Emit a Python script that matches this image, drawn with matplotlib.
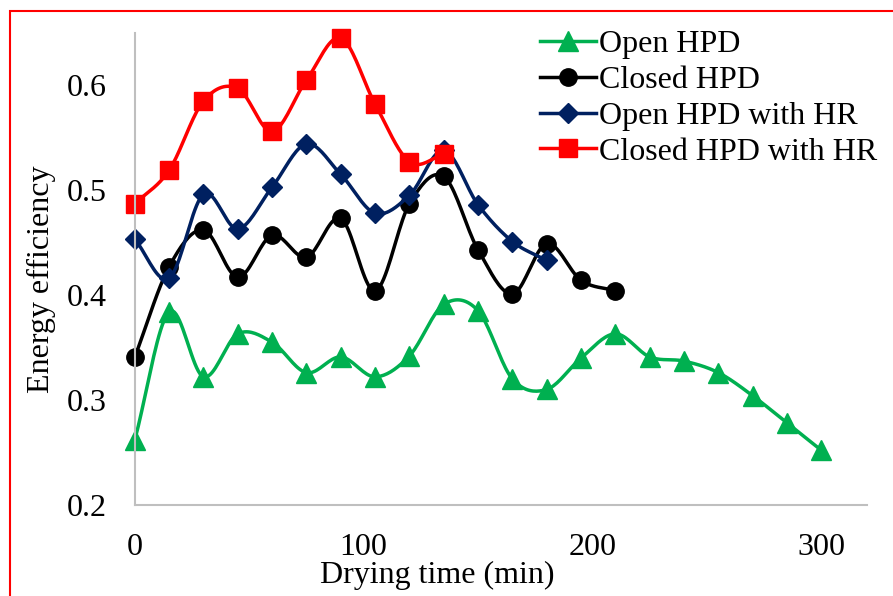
import numpy as np
import matplotlib.pyplot as plt
from matplotlib.patches import Rectangle

plt.rcParams['font.family'] = ['Liberation Serif', 'DejaVu Serif']

# drying time (min), 15 min steps
t_open = [0, 15, 30, 45, 60, 75, 90, 105, 120, 135, 150, 165, 180, 195, 210,
          225, 240, 255, 270, 285, 300]
t_closed = t_open[:15]
t_open_hr = t_open[:13]
t_closed_hr = t_open[:10]

# energy efficiency
open_hpd = [0.262, 0.384, 0.322, 0.363, 0.355, 0.326, 0.341, 0.322, 0.342, 0.391,
            0.385, 0.320, 0.310, 0.340, 0.363, 0.341, 0.337, 0.326, 0.304, 0.278, 0.252]
closed_hpd = [0.341, 0.427, 0.462, 0.417, 0.457, 0.436, 0.473, 0.404, 0.487, 0.513,
              0.443, 0.401, 0.449, 0.414, 0.404]
open_hpd_hr = [0.453, 0.416, 0.496, 0.463, 0.503, 0.544, 0.515, 0.478, 0.495, 0.538,
               0.486, 0.451, 0.433]
closed_hpd_hr = [0.487, 0.519, 0.585, 0.597, 0.556, 0.605, 0.645, 0.582, 0.527, 0.534]


def smooth(x, y, n=20):
    # Catmull-Rom curve through the points (like Excel's smoothed line)
    x = np.asarray(x, float)
    y = np.asarray(y, float)
    px = np.concatenate([[2 * x[0] - x[1]], x, [2 * x[-1] - x[-2]]])
    py = np.concatenate([[2 * y[0] - y[1]], y, [2 * y[-1] - y[-2]]])
    xs, ys = [], []
    s = np.linspace(0, 1, n, endpoint=False)
    for i in range(1, len(px) - 2):
        for p, out in ((px, xs), (py, ys)):
            p0, p1, p2, p3 = p[i - 1], p[i], p[i + 1], p[i + 2]
            out.extend(0.5 * (2 * p1 + (-p0 + p2) * s
                              + (2 * p0 - 5 * p1 + 4 * p2 - p3) * s ** 2
                              + (-p0 + 3 * p1 - 3 * p2 + p3) * s ** 3))
    xs.append(x[-1])
    ys.append(y[-1])
    marks = list(range(0, len(xs), n))
    return xs, ys, marks


fig = plt.figure(figsize=(8.93, 5.96), dpi=100)
ax = fig.add_axes([0.151, 0.153, 0.820, 0.792])

series = [
    (t_open, open_hpd, '#00B050', '^', 14, 'Open HPD'),
    (t_closed, closed_hpd, 'black', 'o', 12.5, 'Closed HPD'),
    (t_open_hr, open_hpd_hr, '#002060', 'D', 10.5, 'Open HPD with HR'),
    (t_closed_hr, closed_hpd_hr, '#FF0000', 's', 12.5, 'Closed HPD with HR'),
]
for x, y, c, m, ms, lab in series:
    xs, ys, marks = smooth(x, y)
    ax.plot(xs, ys, color=c, lw=2.5, marker=m, ms=ms, markevery=marks,
            label=lab, clip_on=False)

fs = 23
ax.set_xlim(0, 320)
ax.set_ylim(0.2, 0.65)
ax.set_xticks([0, 100, 200, 300])
ax.set_yticks([0.2, 0.3, 0.4, 0.5, 0.6])
ax.set_yticklabels(['0.2', '0.3', '0.4', '0.5', '0.6'])
ax.tick_params(axis='x', length=0, labelsize=fs, pad=20)
ax.tick_params(axis='y', length=0, labelsize=fs, pad=20)
for side in ['top', 'right']:
    ax.spines[side].set_visible(False)
for side in ['left', 'bottom']:
    ax.spines[side].set_color('#BFBFBF')
    ax.spines[side].set_linewidth(1.5)

ax.set_xlabel('Drying time (min)', fontsize=fs)
ax.xaxis.set_label_coords(0.4126, -0.118)
ax.set_ylabel('Energy efficiency', fontsize=fs)
ax.yaxis.set_label_coords(-0.107, 0.477)

ax.legend(loc='upper left', bbox_to_anchor=(540 / 893, 1 - 30 / 596),
          bbox_transform=fig.transFigure, frameon=False,
          fontsize=fs, handlelength=1.75, handletextpad=0.1, labelspacing=0.2,
          borderpad=0, borderaxespad=0)

# red frame around the figure (right and bottom edges cut off)
fig.patches.append(Rectangle((10 / 893, -0.05), 1.1, 1 - 11 / 596 + 0.05,
                             transform=fig.transFigure, fill=False,
                             edgecolor='#FF0000', lw=1.5))

fig.savefig('out.png', dpi=100)
